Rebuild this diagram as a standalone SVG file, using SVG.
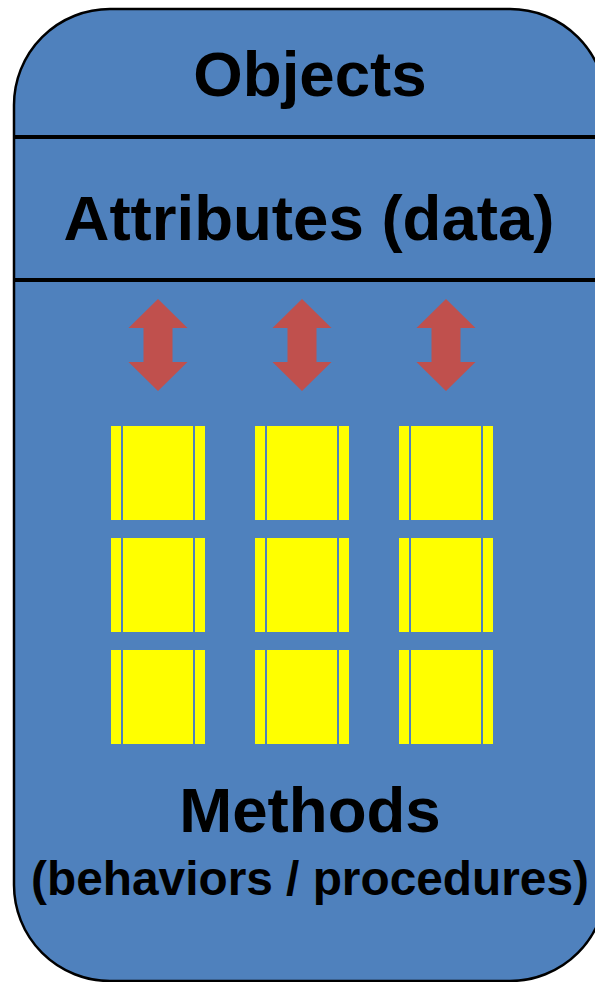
<svg xmlns="http://www.w3.org/2000/svg" width="595" height="982" viewBox="0 0 595 982">
  <style>
    .lbl { font-family: "Liberation Sans", Arial, sans-serif; font-weight: bold; fill: #000; text-anchor: middle; }
    .big { font-size: 63.6px; }
    .small { font-size: 47.8px; }
    .divider { stroke: #000; stroke-width: 4; }
    .arrow { fill: #C0504D; }
    .cell { fill: #FFFF00; }
  </style>
  <defs>
    <!-- double-headed vertical arrow, centred on x=0 -->
    <polygon id="dblArrow" class="arrow" points="0,299 29.5,328 14.5,328 14.5,362 29.5,362 0,391 -29.5,362 -14.5,362 -14.5,328 -29.5,328"/>
    <!-- method cell: a yellow block with thin side strips -->
    <g id="methodCell">
      <rect class="cell" x="0" y="0" width="10" height="94"/>
      <rect class="cell" x="12" y="0" width="70" height="94"/>
      <rect class="cell" x="84" y="0" width="10" height="94"/>
    </g>
  </defs>

  <g id="object-box">
    <rect x="14" y="9" width="592" height="972" rx="96" ry="96" fill="#4F81BD" stroke="#000" stroke-width="2.5"/>
  </g>

  <g id="dividers">
    <line class="divider" x1="14" y1="137" x2="606" y2="137"/>
    <line class="divider" x1="14" y1="280" x2="606" y2="280"/>
  </g>

  <g id="title">
    <text class="lbl big" x="310" y="96">Objects</text>
  </g>

  <g id="attributes">
    <text class="lbl big" x="309" y="240">Attributes (data)</text>
  </g>

  <g id="connectors">
    <use href="#dblArrow" x="158"/>
    <use href="#dblArrow" x="302"/>
    <use href="#dblArrow" x="446"/>
  </g>

  <g id="methods-grid">
    <use href="#methodCell" x="111" y="426"/>
    <use href="#methodCell" x="255" y="426"/>
    <use href="#methodCell" x="399" y="426"/>
    <use href="#methodCell" x="111" y="538"/>
    <use href="#methodCell" x="255" y="538"/>
    <use href="#methodCell" x="399" y="538"/>
    <use href="#methodCell" x="111" y="650"/>
    <use href="#methodCell" x="255" y="650"/>
    <use href="#methodCell" x="399" y="650"/>
  </g>

  <g id="methods-label">
    <text class="lbl big" x="310" y="832">Methods</text>
    <text class="lbl small" x="310" y="895">(behaviors / procedures)</text>
  </g>
</svg>
